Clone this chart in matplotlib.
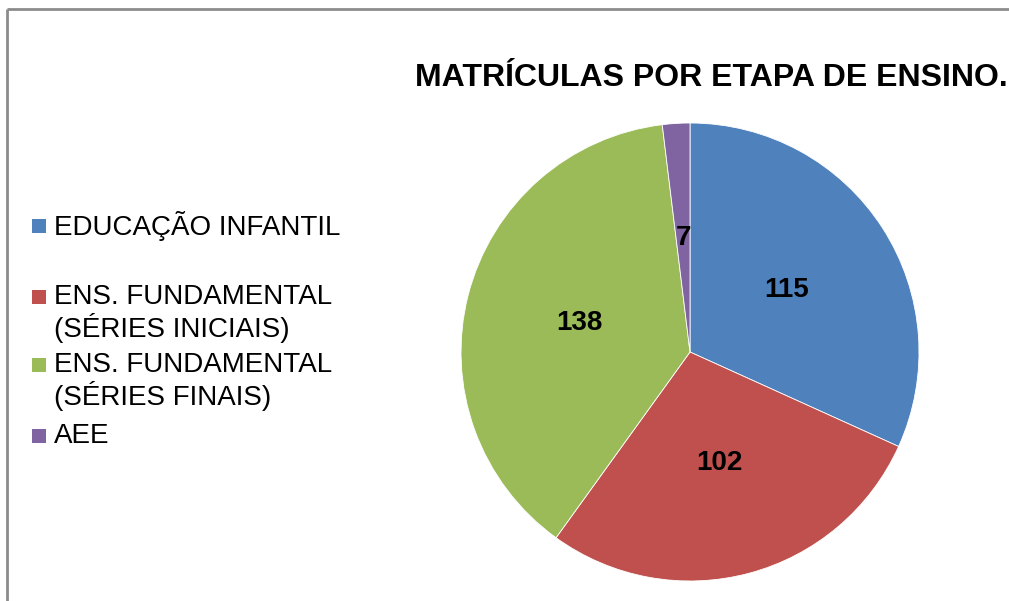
import matplotlib
matplotlib.use("Agg")
import matplotlib.pyplot as plt
from matplotlib.patches import Rectangle
from matplotlib.lines import Line2D

plt.rcParams['font.family'] = ['Liberation Sans', 'DejaVu Sans']

categories = ["EDUCAÇÃO INFANTIL", "ENS. FUNDAMENTAL\n(SÉRIES INICIAIS)",
              "ENS. FUNDAMENTAL\n(SÉRIES FINAIS)", "AEE"]
values = [115, 102, 138, 7]
colors = ["#4F81BD", "#C0504D", "#9BBB59", "#8064A2"]
title = "MATRÍCULAS POR ETAPA DE ENSINO."

W, H = 1009, 601
fig = plt.figure(figsize=(W / 100, H / 100), dpi=100)

# outer frame: only left and top edges are visible
fig.add_artist(Line2D([7 / W, 7 / W], [-0.02, 1 - 9 / H], transform=fig.transFigure,
                      color="#8c8c8c", linewidth=2, solid_capstyle="butt"))
fig.add_artist(Line2D([7 / W, 1.02], [1 - 9 / H, 1 - 9 / H], transform=fig.transFigure,
                      color="#8c8c8c", linewidth=2, solid_capstyle="butt"))

cx, cy, r = 690, 352, 229
ax = fig.add_axes([(cx - r) / W, 1 - (cy + r) / H, 2 * r / W, 2 * r / H])
total = sum(values)
wedges, texts, autotexts = ax.pie(
    values, colors=colors, startangle=90, counterclock=False, radius=1,
    autopct=lambda p: f"{round(p * total / 100)}", pctdistance=0.5,
    wedgeprops=dict(edgecolor="white", linewidth=0.6),
    textprops=dict(fontsize=20, fontweight="bold", color="black"))
ax.set_xlim(-1, 1)
ax.set_ylim(-1, 1)
ax.set_aspect("equal")
ax.axis("off")

fig.text(711 / W, 1 - 78 / H, title, ha="center", va="center",
         fontsize=23, fontweight="bold")

# legend (manually positioned like the original)
legend_y = [225, 296, 364, 435]
line_gap = 31
for lab, col, y in zip(categories, colors, legend_y):
    fig.patches.append(Rectangle((32 / W, 1 - (y + 8) / H), 14 / W, 14 / H,
                                 transform=fig.transFigure, facecolor=col,
                                 edgecolor="none"))
    for i, line in enumerate(lab.split("\n")):
        fig.text(54 / W, 1 - (y - 2 + i * line_gap) / H, line, ha="left",
                 va="center_baseline", fontsize=20)

fig.savefig("out.png", dpi=100)
